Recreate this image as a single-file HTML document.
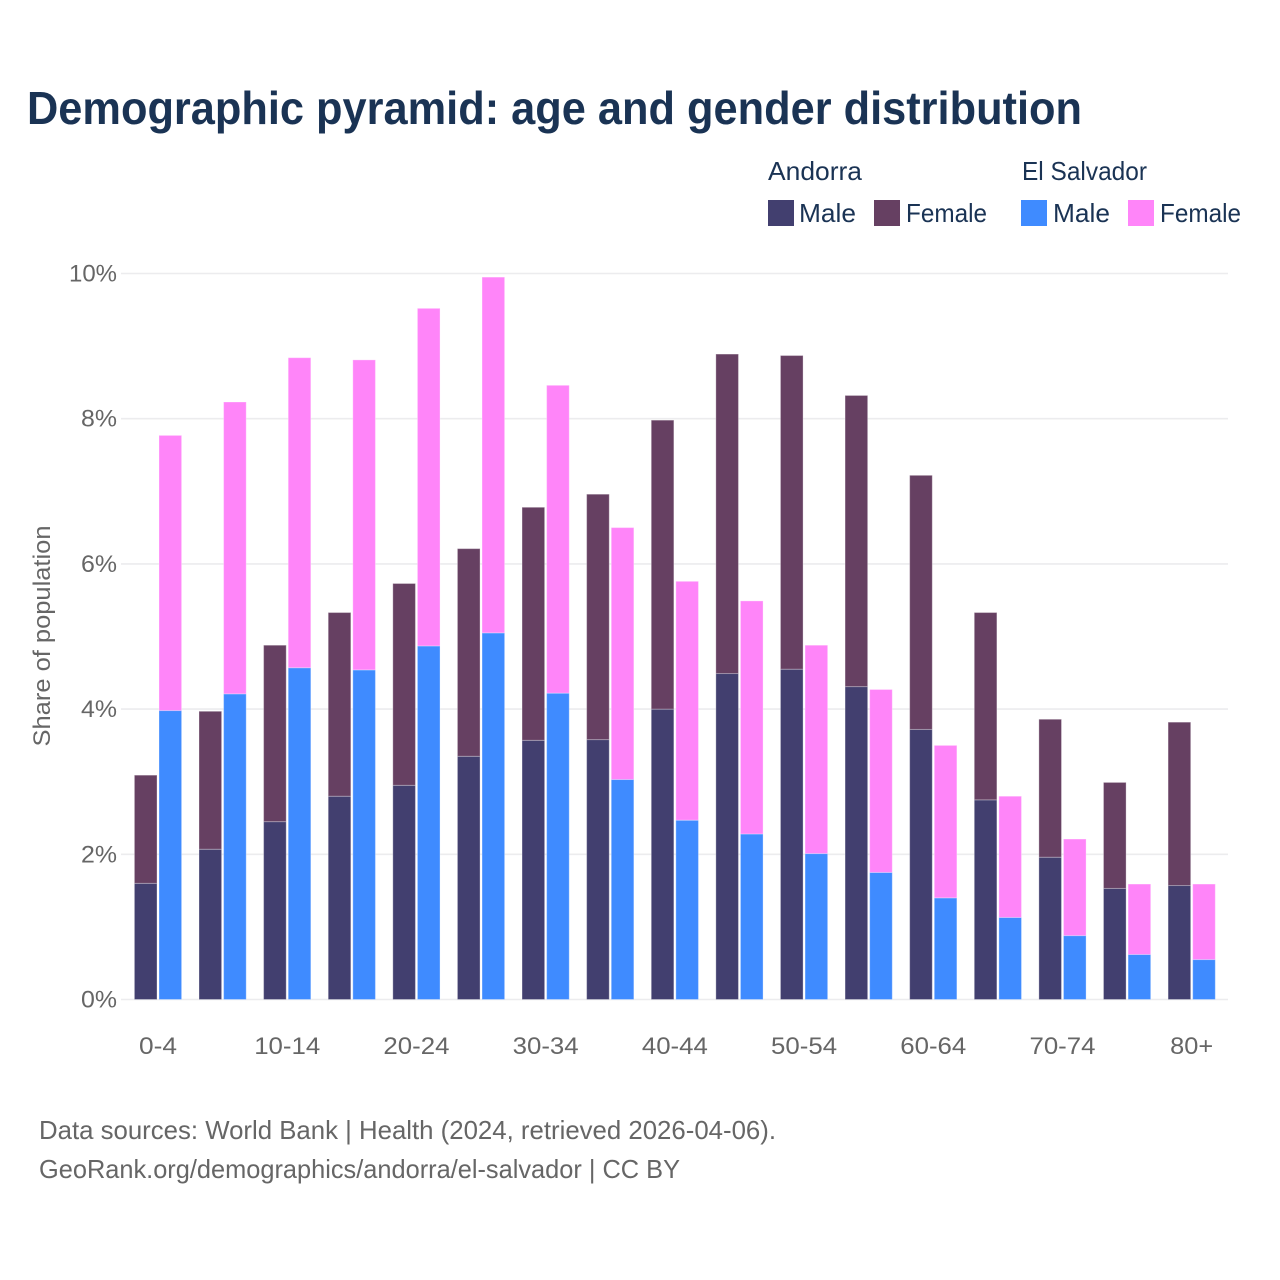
<!DOCTYPE html>
<html lang="en">
<head>
<meta charset="utf-8">
<title>Demographic pyramid</title>
<style>
html,body{margin:0;padding:0;background:#fff;width:1280px;height:1280px;overflow:hidden}
svg{display:block}
text{font-family:"Liberation Sans",sans-serif}
</style>
</head>
<body>
<svg id="chart" width="1280" height="1280" viewBox="0 0 1280 1280" xmlns="http://www.w3.org/2000/svg">
  <text x="27" y="124" font-size="46" font-weight="700" fill="#1a3354" textLength="1055" lengthAdjust="spacingAndGlyphs">Demographic pyramid: age and gender distribution</text>

  <g font-size="26" fill="#1a3354">
    <text x="768" y="180" textLength="94" lengthAdjust="spacingAndGlyphs">Andorra</text>
    <text x="1022" y="180" textLength="125" lengthAdjust="spacingAndGlyphs">El Salvador</text>
    <rect x="768" y="200" width="26" height="26" fill="#423f6f"/>
    <text x="799" y="222" textLength="57" lengthAdjust="spacingAndGlyphs">Male</text>
    <rect x="874" y="200" width="26" height="26" fill="#664062"/>
    <text x="906" y="222" textLength="81" lengthAdjust="spacingAndGlyphs">Female</text>
    <rect x="1021" y="200" width="26" height="26" fill="#3f8bff"/>
    <text x="1053" y="222" textLength="57" lengthAdjust="spacingAndGlyphs">Male</text>
    <rect x="1128" y="200" width="26" height="26" fill="#ff85f9"/>
    <text x="1160" y="222" textLength="81" lengthAdjust="spacingAndGlyphs">Female</text>
  </g>

  <g id="grid"></g>
  <g id="bars"></g>
  <g id="ylabels"></g>
  <g id="xlabels"></g>

  <text transform="translate(50,636) rotate(-90)" text-anchor="middle" font-size="24" fill="#666666" textLength="221" lengthAdjust="spacingAndGlyphs">Share of population</text>

  <text x="39" y="1139" font-size="26" fill="#666666" textLength="737" lengthAdjust="spacingAndGlyphs">Data sources: World Bank | Health (2024, retrieved 2026-04-06).</text>
  <text x="39" y="1178" font-size="26" fill="#666666" textLength="641" lengthAdjust="spacingAndGlyphs">GeoRank.org/demographics/andorra/el-salvador | CC BY</text>
</svg>
<script>
const categories = ["0-4","5-9","10-14","15-19","20-24","25-29","30-34","35-39","40-44","45-49","50-54","55-59","60-64","65-69","70-74","75-79","80+"];
const andorraMale = [1.60,2.07,2.45,2.80,2.95,3.35,3.57,3.58,4.00,4.49,4.55,4.31,3.72,2.75,1.96,1.53,1.57];
const andorraFemale = [1.49,1.90,2.43,2.53,2.78,2.86,3.21,3.38,3.98,4.40,4.32,4.01,3.50,2.58,1.90,1.46,2.25];
const salvadorMale = [3.98,4.21,4.57,4.54,4.87,5.05,4.22,3.03,2.47,2.28,2.01,1.75,1.40,1.13,0.88,0.62,0.55];
const salvadorFemale = [3.79,4.02,4.27,4.27,4.65,4.90,4.24,3.47,3.29,3.21,2.87,2.52,2.10,1.67,1.33,0.97,1.04];
const yTicks = [0,2,4,6,8,10];
const xLabelEvery = 2;

const NS = "http://www.w3.org/2000/svg";
const plotLeft = 125.7, plotRight = 1224, plotBottom = 999.5, plotTop = 273.5, yMax = 10;
function yScale(v){ return plotBottom - (v / yMax) * (plotBottom - plotTop); }
function bandCenter(i){ return plotLeft + (i + 0.5) * (plotRight - plotLeft) / categories.length; }
const barWidth = 22.6, barGap = 2;

function make(tag, attrs, parent, text){
  const el = document.createElementNS(NS, tag);
  for (const k in attrs) el.setAttribute(k, attrs[k]);
  if (text !== undefined) el.textContent = text;
  parent.appendChild(el);
  return el;
}

const grid = document.getElementById("grid");
const ylabels = document.getElementById("ylabels");
yTicks.forEach(function(t){
  const line = make("line", {x1:121, x2:1228, y1:yScale(t), y2:yScale(t), stroke:"#ececee", "stroke-width":1.6}, grid);
  
  
  const lab = make("text", {x:117, y:yScale(t)+8, "text-anchor":"end", "font-size":24, fill:"#666666", textLength:(t===10?48:36), lengthAdjust:"spacingAndGlyphs"}, ylabels, t + "%");
  
  
});

const bars = document.getElementById("bars");
function drawBar(x, base, value, fill, name){
  const top = yScale(base + value), bottom = yScale(base);
  const r = make("rect", {x:x, y:top, width:barWidth, height:bottom-top, fill:fill, stroke:"#ffffff", "stroke-opacity":0.3, "stroke-width":1}, bars);
  
  
}
categories.forEach(function(c, i){
  const cx = bandCenter(i);
  const xa = cx - barGap/2 - barWidth;
  const xs = cx + barGap/2;
  drawBar(xa, 0, andorraMale[i], "#423f6f", "bar-andorra-male");
  drawBar(xa, andorraMale[i], andorraFemale[i], "#664062", "bar-andorra-female");
  drawBar(xs, 0, salvadorMale[i], "#3f8bff", "bar-el-salvador-male");
  drawBar(xs, salvadorMale[i], salvadorFemale[i], "#ff85f9", "bar-el-salvador-female");
});

const xlabels = document.getElementById("xlabels");
categories.forEach(function(c, i){
  if (i % xLabelEvery !== 0) return;
  const widthFactor = c.length === 3 ? 43 : 66;
  const lab = make("text", {x:bandCenter(i), y:1054, "text-anchor":"middle", "font-size":24, fill:"#666666", textLength:(c === "0-4" ? 38 : widthFactor), lengthAdjust:"spacingAndGlyphs"}, xlabels, c);
  
  
});
</script>
</body>
</html>
